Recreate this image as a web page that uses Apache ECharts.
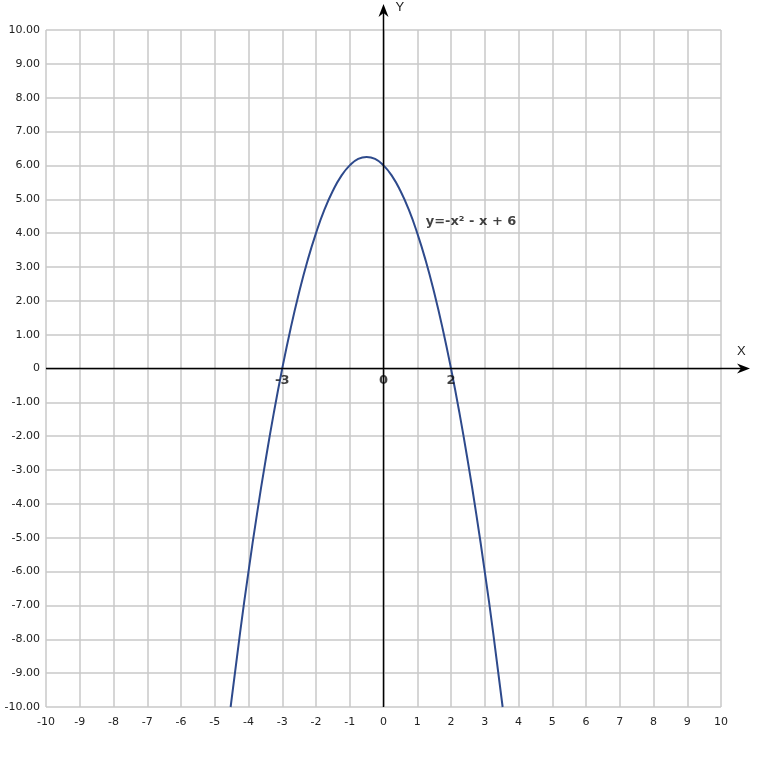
<!DOCTYPE html>
<html><head><meta charset="utf-8">
<script src="https://cdn.jsdelivr.net/npm/echarts@6/dist/echarts.min.js"></script>
<style>html,body{margin:0;padding:0;background:#fff}#c{width:757px;height:757px}</style>
</head><body><div id="c"></div>
<script>
// Curve points
const curveX = [-4.53,-4.25,-4,-3.75,-3.5,-3.25,-3,-2.75,-2.5,-2.25,-2,-1.75,-1.5,-1.25,-1,-0.75,-0.5,-0.25,0,0.25,0.5,0.75,1,1.25,1.5,1.75,2,2.25,2.5,2.75,3,3.25,3.53];
const curveY = [-10,-7.81,-6,-4.31,-2.75,-1.31,0,1.19,2.25,3.19,4,4.69,5.25,5.69,6,6.19,6.25,6.19,6,5.69,5.25,4.69,4,3.19,2.25,1.19,0,-1.31,-2.75,-4.31,-6,-7.81,-10];
// Root / origin annotations
const rootX = [-3, 0, 2];
const rootLabels = ['-3', '0', '2'];
// Equation label anchor
const eqX = [1.25];
const eqY = [4.35];
const eqText = ['y=-x\u00b2 - x + 6'];
// Axis ranges
const xMin = -10, xMax = 10, yMin = -10, yMax = 10;

const chart = echarts.init(document.getElementById('c'));
const font = '"DejaVu Sans", Verdana, sans-serif';
chart.setOption({
  animation: false,
  grid: {left: 46, right: 36, top: 30, bottom: 50},
  xAxis: {
    type: 'value', min: xMin, max: xMax, interval: 1,
    axisLine: {show: false}, axisTick: {show: false},
    axisLabel: {color: '#222', fontSize: 11, fontFamily: font, margin: 10},
    splitLine: {lineStyle: {color: '#c8c8c8', width: 1.5}}
  },
  yAxis: {
    type: 'value', min: yMin, max: yMax, interval: 1,
    axisLine: {show: false}, axisTick: {show: false},
    axisLabel: {color: '#222', fontSize: 11, fontFamily: font, margin: 6,
      formatter: v => v === 0 ? '0' : v.toFixed(2)},
    splitLine: {lineStyle: {color: '#c8c8c8', width: 1.5}}
  },
  series: [
    {
      type: 'line', smooth: true, symbol: 'none', z: 5,
      lineStyle: {color: '#2e4a8c', width: 2},
      data: curveX.map((x, i) => [x, curveY[i]])
    },
    {
      type: 'scatter', symbolSize: 0, z: 6,
      label: {show: true, position: 'bottom', distance: 6, formatter: p => rootLabels[p.dataIndex],
        fontWeight: 'bold', fontSize: 13, color: '#111', fontFamily: font, offset: [0, 0]},
      data: rootX.map(x => [x, 0])
    },
    {
      type: 'scatter', symbolSize: 0, z: 6,
      label: {show: true, position: 'right', distance: 0, formatter: p => eqText[p.dataIndex],
        fontWeight: 'bold', fontSize: 13, color: '#111', fontFamily: font},
      data: eqX.map((x, i) => [x, eqY[i]])
    }
  ]
});

// Axes with arrows, positioned via the library's scales
const o = chart.convertToPixel({gridIndex: 0}, [0, 0]);
const left = chart.convertToPixel({gridIndex: 0}, [xMin, 0]);
const bottom = chart.convertToPixel({gridIndex: 0}, [0, yMin]);
const xEnd = 750, yEnd = 4;
chart.setOption({
  graphic: [
    {type: 'line', z: 10, shape: {x1: left[0], y1: o[1], x2: xEnd - 8, y2: o[1]}, style: {stroke: '#000', lineWidth: 1.5}},
    {type: 'polygon', z: 10, shape: {points: [[xEnd, o[1]], [xEnd - 13, o[1] - 5], [xEnd - 9, o[1]], [xEnd - 13, o[1] + 5]]}, style: {fill: '#000'}},
    {type: 'line', z: 10, shape: {x1: o[0], y1: bottom[1], x2: o[0], y2: yEnd + 8}, style: {stroke: '#000', lineWidth: 1.5}},
    {type: 'polygon', z: 10, shape: {points: [[o[0], yEnd], [o[0] - 5, yEnd + 13], [o[0], yEnd + 9], [o[0] + 5, yEnd + 13]]}, style: {fill: '#000'}},
    {type: 'text', z: 10, x: 737, y: o[1] - 24, style: {text: 'X', fontSize: 13, fill: '#222', font: '13px ' + font}},
    {type: 'text', z: 10, x: o[0] + 12, y: 1, style: {text: 'Y', fontSize: 13, fill: '#222', font: '13px ' + font}}
  ]
});
</script>
</body></html>
